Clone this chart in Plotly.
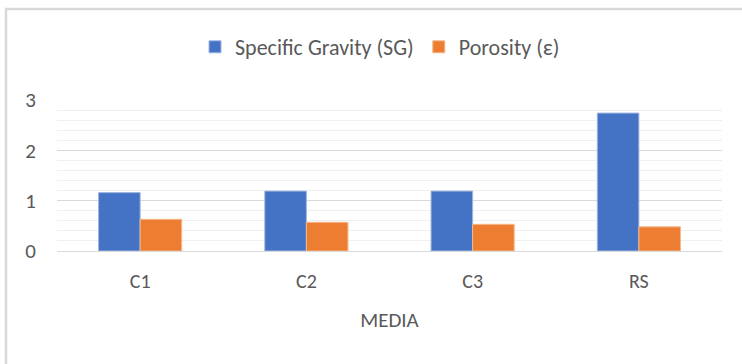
import plotly.graph_objects as go

categories = ["C1", "C2", "C3", "RS"]
sg_values = [1.16, 1.19, 1.19, 2.74]
porosity_values = [0.63, 0.57, 0.53, 0.48]
y_ticks = [0, 1, 2, 3]

FONT = "Liberation Sans Narrow, Carlito, Lato, sans-serif"
TXT = "#595959"

fig = go.Figure()
fig.add_trace(go.Bar(x=categories, y=sg_values, name="Specific Gravity (SG)",
                     marker=dict(color="#4472c4", line=dict(color="#9fb6e0", width=1))))
fig.add_trace(go.Bar(x=categories, y=porosity_values, name="Porosity (\u03b5)",
                     marker=dict(color="#ed7d31", line=dict(color="#f5b88f", width=1))))

L, R, T, B = 57, 20, 100, 113
W, H = 742, 364
pw = W - L - R
ph = H - T - B

fig.update_layout(
    width=W, height=H,
    margin=dict(l=L, r=R, t=T, b=B),
    paper_bgcolor="white", plot_bgcolor="white",
    barmode="group", bargap=0.5, bargroupgap=0,
    font=dict(family=FONT, size=20, color=TXT),
    showlegend=True,
    legend=dict(orientation="h", x=(380 - L) / pw, xanchor="center",
                y=(H - B - 47) / ph, yanchor="middle",
                font=dict(size=22, color=TXT), itemwidth=30,
                traceorder="normal"),
    xaxis=dict(showgrid=False, showline=True, linecolor="#d9d9d9", linewidth=1,
               ticks="", ticklabelstandoff=12,
               title=dict(text="MEDIA", font=dict(size=21, color=TXT), standoff=20),
               tickfont=dict(size=20, color=TXT)),
    yaxis=dict(range=[0, 3], tickvals=y_ticks, showgrid=True, gridcolor="#d9d9d9",
               gridwidth=1, zeroline=False, showline=False, ticks="",
               ticklabelstandoff=20,
               tickfont=dict(size=21, color=TXT),
               minor=dict(dtick=0.2, showgrid=True, gridcolor="#f0f0f0", gridwidth=1)),
    shapes=[dict(type="rect", xref="paper", yref="paper",
                 x0=(6 - L) / pw, x1=1.2, y0=-1.2, y1=(H - B - 9) / ph,
                 line=dict(color="#d9d9d9", width=2.5), fillcolor="rgba(0,0,0,0)",
                 layer="below")],
)

fig.write_html("out.html")
